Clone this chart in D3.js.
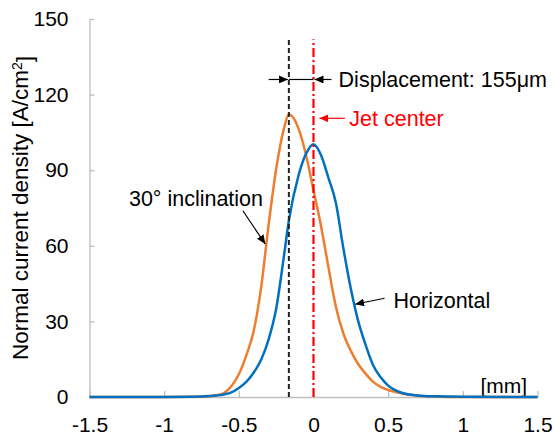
<!DOCTYPE html>
<html>
<head>
<meta charset="utf-8">
<script src="https://cdn.jsdelivr.net/npm/d3@7"></script>
<style>
    body { margin: 0; background: #fff; }
    svg { display: block; font-family: "Liberation Sans", Arial, sans-serif; }
</style>
</head>
<body>
<svg id="chart"></svg>
<script>
// position across the jet [mm]
var positions = [-1.5, -1.0, -0.8, -0.7, -0.65, -0.6, -0.55, -0.5, -0.45, -0.4, -0.35, -0.3, -0.25, -0.2, -0.165,
    -0.1, -0.05, 0, 0.05, 0.1, 0.15, 0.2, 0.25, 0.3, 0.35, 0.4, 0.45, 0.5, 0.55, 0.6, 0.7, 0.8, 1.0, 1.5];

// normal current density [A/cm2]
var inclined = [0, 0, 0.1, 0.3, 0.7, 1.6, 4.3, 9, 16.5, 26.3, 43.8, 68.6, 90.5, 106, 112.2,
    106.5, 96, 82, 68, 51.5, 35.8, 25.2, 18.3, 13, 9.2, 6, 4, 2.8, 2, 1.3, 0.5, 0.2, 0, 0];

var horizontal = [0, 0, 0.1, 0.35, 0.6, 1, 1.8, 3.6, 6, 9.7, 14.9, 23, 35, 55, 70,
    88, 96.5, 100.3, 96, 87, 77, 59, 43, 30, 20.5, 12.5, 7.8, 4.5, 2.6, 1.5, 0.6, 0.25, 0.05, 0];

var xTicks = [-1.5, -1, -0.5, 0, 0.5, 1, 1.5];
var yTicks = [0, 30, 60, 90, 120, 150];

var jetCenter = 0;
var inclinedPeak = -0.165;

var W = 554, H = 435;
var margin = {top: 19, right: 16.5, bottom: 38, left: 89.5},
    width = W - margin.left - margin.right,
    height = H - margin.top - margin.bottom;

var x = d3.scaleLinear().domain([-1.5, 1.5]).range([0, width]);
var y = d3.scaleLinear().domain([0, 150]).range([height, 0]);

var root = d3.select("#chart").attr("width", W).attr("height", H);

var defs = root.append("defs");
function arrowMarker(id, color) {
    defs.append("marker")
        .attr("id", id)
        .attr("markerUnits", "userSpaceOnUse")
        .attr("viewBox", "0 0 9 8")
        .attr("refX", 9).attr("refY", 4)
        .attr("markerWidth", 9).attr("markerHeight", 8)
        .attr("orient", "auto")
        .append("path")
        .attr("d", "M0,0L9,4L0,8Z")
        .attr("fill", color);
}
arrowMarker("arrowBlack", "#000");
arrowMarker("arrowRed", "#ff0000");

var svg = root.append("g")
    .attr("transform", "translate(" + margin.left + "," + margin.top + ")");

// axes
var xAxis = svg.append("g")
    .attr("transform", "translate(0," + height + ")")
    .call(d3.axisBottom(x).tickValues(xTicks).tickSizeInner(-6).tickSizeOuter(0).tickPadding(20)
        .tickFormat(function(d) { return String(d); }));

var yAxis = svg.append("g")
    .call(d3.axisLeft(y).tickValues(yTicks).tickSizeInner(-5).tickSizeOuter(0).tickPadding(21));

[xAxis, yAxis].forEach(function(a) {
    a.select(".domain").attr("stroke", "#bfbfbf").attr("stroke-width", 1.3);
    a.selectAll(".tick line").attr("stroke", "#bfbfbf").attr("stroke-width", 1.3);
    a.selectAll(".tick text").attr("fill", "#000").style("font-size", "21px")
        .style("font-family", "\"Liberation Sans\", Arial, sans-serif");
});

// y axis title
var title = root.append("text")
    .attr("transform", "translate(28," + (margin.top + height / 2) + ") rotate(-90)")
    .attr("text-anchor", "middle")
    .style("font-size", "22.5px")
    .attr("fill", "#000");
title.append("tspan").text("Normal current density [A/cm");
title.append("tspan").attr("dy", "-0.45em").style("font-size", "14px").text("2");
title.append("tspan").attr("dy", "0.45em").text("]");

// unit label
svg.append("text")
    .attr("x", x(1.43))
    .attr("y", y(0) - 4)
    .attr("text-anchor", "end")
    .style("font-size", "21px")
    .text("[mm]");

// curves
var line = d3.line()
    .x(function(d) { return x(d[0]); })
    .y(function(d) { return y(d[1]); })
    .curve(d3.curveMonotoneX);

svg.append("path")
    .datum(d3.zip(positions, inclined))
    .attr("fill", "none")
    .attr("stroke", "#ed7d31")
    .attr("stroke-width", 2.5)
    .attr("d", line);

svg.append("path")
    .datum(d3.zip(positions, horizontal))
    .attr("fill", "none")
    .attr("stroke", "#0070c0")
    .attr("stroke-width", 2.5)
    .attr("d", line);

// reference lines
svg.append("line")
    .attr("x1", x(inclinedPeak)).attr("x2", x(inclinedPeak))
    .attr("y1", y(0)).attr("y2", y(142))
    .attr("stroke", "#222").attr("stroke-width", 2)
    .attr("stroke-dasharray", "5,3");

svg.append("line")
    .attr("x1", x(jetCenter)).attr("x2", x(jetCenter))
    .attr("y1", y(0)).attr("y2", y(142))
    .attr("stroke", "#ff0000").attr("stroke-width", 2.2)
    .attr("stroke-dasharray", "9,3,2,3");

// displacement
svg.append("line")
    .attr("x1", x(inclinedPeak)).attr("x2", x(jetCenter))
    .attr("y1", y(126)).attr("y2", y(126))
    .attr("stroke", "#000").attr("stroke-width", 1.2);
svg.append("line")
    .attr("x1", x(-0.3)).attr("x2", x(inclinedPeak) - 1)
    .attr("y1", y(126)).attr("y2", y(126))
    .attr("stroke", "#000").attr("stroke-width", 1.2)
    .attr("marker-end", "url(#arrowBlack)");
svg.append("line")
    .attr("x1", x(0.12)).attr("x2", x(jetCenter) + 1)
    .attr("y1", y(126)).attr("y2", y(126))
    .attr("stroke", "#000").attr("stroke-width", 1.2)
    .attr("marker-end", "url(#arrowBlack)");
svg.append("text")
    .attr("x", x(0.168)).attr("y", y(126))
    .attr("dy", "0.35em")
    .style("font-size", "21.5px")
    .text("Displacement: 155\u03bcm");

// jet center
svg.append("line")
    .attr("x1", x(0.21)).attr("x2", x(0.04))
    .attr("y1", y(110.6)).attr("y2", y(110.6))
    .attr("stroke", "#ff0000").attr("stroke-width", 1.2)
    .attr("marker-end", "url(#arrowRed)");
svg.append("text")
    .attr("x", x(0.24)).attr("y", y(110.6))
    .attr("dy", "0.35em")
    .attr("fill", "#ff0000")
    .style("font-size", "21.5px")
    .text("Jet center");

// curve labels
svg.append("text")
    .attr("x", x(-1.236)).attr("y", y(78.8))
    .attr("dy", "0.35em")
    .style("font-size", "21.5px")
    .text("30\u00b0 inclination");
svg.append("line")
    .attr("x1", x(-0.473)).attr("y1", y(73.9))
    .attr("x2", x(-0.323)).attr("y2", y(60.7))
    .attr("stroke", "#000").attr("stroke-width", 1.2)
    .attr("marker-end", "url(#arrowBlack)");

svg.append("text")
    .attr("x", x(0.536)).attr("y", y(38.4))
    .attr("dy", "0.35em")
    .style("font-size", "21.5px")
    .text("Horizontal");
svg.append("line")
    .attr("x1", x(0.476)).attr("y1", y(39.2))
    .attr("x2", x(0.279)).attr("y2", y(36.8))
    .attr("stroke", "#000").attr("stroke-width", 1.2)
    .attr("marker-end", "url(#arrowBlack)");
</script>
</body>
</html>
